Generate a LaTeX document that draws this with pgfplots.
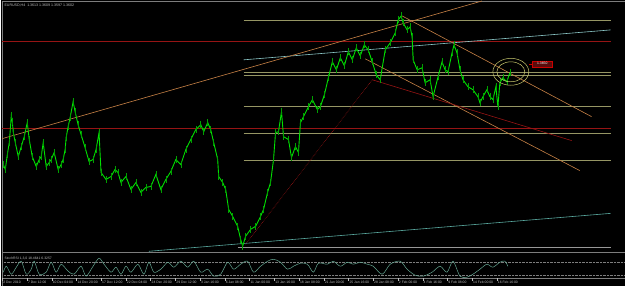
\documentclass[border=0pt]{standalone}
\usepackage{fontspec}
\setmainfont{Liberation Sans}
\usepackage{pgfplots}
\pgfplotsset{compat=1.18}
\definecolor{candle}{RGB}{0,225,0}
\definecolor{wick}{RGB}{0,160,0}
\definecolor{dred}{RGB}{150,20,20}
\definecolor{khaki}{RGB}{150,150,100}
\definecolor{orng}{RGB}{200,130,70}
\definecolor{lcyan}{RGB}{140,200,200}
\definecolor{teal2}{RGB}{90,170,160}
\definecolor{ell}{RGB}{200,200,110}
\definecolor{osc}{RGB}{100,165,145}
\definecolor{lab}{RGB}{190,190,190}
\definecolor{frame}{RGB}{125,125,125}
\begin{document}
\begin{tikzpicture}
\begin{axis}[
  scale only axis, width=625pt, height=287pt,
  xmin=0, xmax=625, ymin=0, ymax=287, y dir=reverse,
  hide axis, clip=false,
]
\fill[black] (axis cs:0,0) rectangle (axis cs:625,287);
% frame
\addplot[frame, line width=0.8pt] coordinates {(1,287) (1,1) (625,1)};
\addplot[frame, line width=1pt] coordinates {(1,253) (625,253)};
\addplot[frame, line width=0.6pt] coordinates {(1,279) (625,279)};
% horizontal levels
\addplot[dred, line width=0.9pt] coordinates {(1,42) (611,42)};
\addplot[dred, line width=0.9pt] coordinates {(1,129) (611,129)};
\addplot[khaki, line width=0.6pt] coordinates {(243,20) (611,20)};
\addplot[khaki, line width=0.6pt] coordinates {(243,73) (611,73)};
\addplot[khaki, line width=0.6pt] coordinates {(243,76) (611,76)};
\addplot[khaki, line width=0.6pt] coordinates {(243,107) (611,107)};
\addplot[khaki, line width=0.6pt] coordinates {(243,134) (611,134)};
\addplot[khaki, line width=0.6pt] coordinates {(243,161) (611,161)};
\addplot[lab!80!black, line width=0.5pt] coordinates {(237,248) (611,248)};
% trend lines
\addplot[lcyan, line width=0.6pt] coordinates {(243,60) (611,30)};
\addplot[teal2, line width=0.6pt] coordinates {(148,252) (611,214)};
\addplot[orng, line width=0.6pt] coordinates {(1,139) (482,1)};
\addplot[orng, line width=0.6pt] coordinates {(402,16) (592,117)};
\addplot[orng, line width=0.6pt] coordinates {(365,59) (580,171)};
\addplot[dred, line width=0.6pt] coordinates {(372,80) (572,141)};
\addplot[dred, line width=0.6pt, densely dotted] coordinates {(245,245) (372,80)};
% price (candles approximated)
\addplot[candle, line width=0.9pt, mark=none,
  error bars/.cd, y dir=both, y fixed=3.5,
  error bar style={wick, line width=0.5pt}, error mark=none]
coordinates {
(2,165) (4,170) (6,155) (8,143) (10,116) (11,122) (12,133) (14,143) (17,157) (20,147)
(23,137) (26,123) (28,140) (31,157) (35,167) (38,160) (40,157) (42,143) (45,167) (48,163)
(50,160) (53,153) (57,170) (60,165) (62,160) (64,150) (65,138) (67,127) (69,118) (72,102)
(74,112) (77,125) (80,135) (84,148) (88,162) (92,160) (95,150) (98,133) (100,173) (105,180)
(110,177) (114,170) (117,173) (120,183) (125,177) (130,190) (135,183) (140,193) (145,188) (150,187)
(155,175) (160,190) (165,180) (170,172) (175,160) (180,165) (185,150) (190,140) (195,130) (200,125)
(203,132) (207,123) (210,130) (213,143) (217,160) (218,177) (222,183) (225,190) (228,210) (232,217)
(237,227) (240,240) (242,247) (245,237) (250,230) (255,227) (260,217) (263,210) (267,193) (270,183)
(273,160) (275,133) (278,132) (281,112) (283,137) (288,140) (291,158) (295,147) (298,153) (300,123)
(303,117) (308,107) (312,100) (317,110) (320,107) (324,95) (328,78) (332,62) (336,70) (340,58)
(344,66) (348,52) (352,60) (356,48) (360,56) (364,45) (368,50) (372,62) (376,75) (380,80)
(385,50) (390,43) (395,33) (398,20) (401,16) (403,23) (407,30) (410,27) (412,37) (413,60)
(417,70) (422,68) (425,83) (430,80) (433,97) (438,77) (442,62) (445,70) (448,72) (452,53)
(454,45) (457,53) (460,70) (463,80) (468,87) (473,90) (478,97) (480,103) (483,97) (487,90)
(490,97) (493,100) (496,87) (498,107) (500,83) (503,78) (507,82) (510,73)
};
% ellipses and label
\draw[ell, line width=0.5pt] (axis cs:511,72) ellipse [x radius=18, y radius=13.5];
\draw[ell, line width=0.5pt] (axis cs:511,72) ellipse [x radius=14, y radius=10];
\draw[red!80!black, fill=dred!60!black, line width=0.5pt] (axis cs:532,61) rectangle (axis cs:553,67);
\draw[red!80!black, line width=0.5pt] (axis cs:532,64) -- (axis cs:529,64);
\node[white, font=\fontsize{3.4}{4}\selectfont, inner sep=0pt] at (axis cs:542.5,64) {1.3650};
% title
\node[lab, anchor=west, font=\fontsize{3.6}{4}\selectfont, inner sep=0pt] at (axis cs:3,5.5) {EURUSD,H4\ \ 1.3613 1.3609 1.3597 1.3602};
% oscillator
\addplot[frame, line width=0.4pt, densely dotted] coordinates {(1,263) (625,263)};
\addplot[frame, line width=0.4pt, densely dotted] coordinates {(1,276) (625,276)};
\node[lab, anchor=west, font=\fontsize{3.4}{4}\selectfont, inner sep=0pt] at (axis cs:3,259.5) {StochRSI 1,3,0 18.4641 6.3257};
\addplot[osc, line width=0.5pt, smooth, tension=0.5] coordinates {
(2,273) (5,267) (10,275) (15,268) (20,262) (25,275) (30,270) (33,262) (38,275) (45,273)
(50,263) (55,273) (60,265) (67,272) (73,275) (80,267) (85,277) (92,267) (98,259) (103,265)
(110,273) (115,268) (120,275) (125,267) (130,273) (137,265) (143,275) (148,263) (153,273) (160,270)
(167,263) (173,268) (180,262) (187,268) (193,262) (200,273) (207,270) (213,277) (220,275) (227,263)
(233,270) (240,265) (247,262) (253,273) (260,267) (267,262) (273,260) (280,263) (287,270) (293,267)
(300,264) (307,265) (313,273) (318,264) (327,265) (333,262) (340,267) (347,263) (353,265) (360,263)
(367,265) (373,267) (382,275) (390,265) (400,262) (407,270) (415,276) (423,277) (432,273) (440,267)
(447,273) (453,262) (460,277) (467,278) (473,275) (480,270) (487,265) (493,268) (500,263) (505,262)
(508,267)
};
% time axis ticks and labels
\foreach \k/\t in {0/2 Dec 2010,1/7 Dec 12:00,2/10 Dec 04:00,3/14 Dec 20:00,4/17 Dec 12:00,
  5/22 Dec 04:00,6/24 Dec 20:00,7/29 Dec 12:00,8/3 Jan 16:00,9/6 Jan 08:00,10/11 Jan 00:00,
  11/13 Jan 16:00,12/18 Jan 08:00,13/21 Jan 00:00,14/25 Jan 16:00,15/28 Jan 08:00,
  16/2 Feb 00:00,17/4 Feb 16:00,18/9 Feb 08:00,19/14 Feb 00:00,20/16 Feb 16:00}{
  \pgfmathsetmacro{\xx}{1+24.8*\k}
  \edef\temp{\noexpand\draw[lab, line width=0.4pt] (axis cs:\xx,279) -- (axis cs:\xx,281.5);}
  \temp
  \edef\temp{\noexpand\node[lab, anchor=west, font=\noexpand\fontsize{3.4}{4}\noexpand\selectfont, inner sep=0pt] at (axis cs:\xx+0.8,283.5) {\t};}
  \temp
}
\end{axis}
\end{tikzpicture}
\end{document}
